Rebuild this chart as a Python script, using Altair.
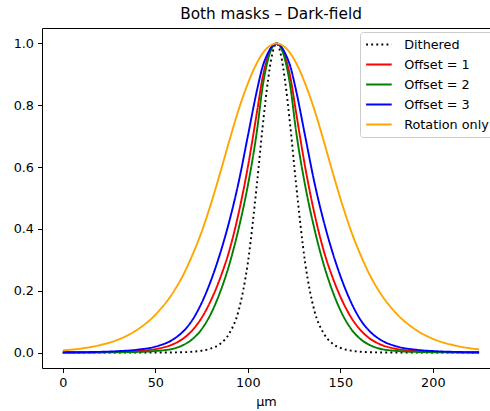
import altair as alt
import pandas as pd

# positions along the profile (µm)
x_um = [0, 10, 20, 30, 40, 50, 60, 65, 70, 75, 80, 85, 90, 95, 100, 105, 108, 111, 113, 115.5,
        118, 120, 123, 126, 131, 136, 141, 146, 151, 156, 161, 166, 171, 181, 191, 201, 211, 225]

dithered = [0, 0, 0, 0, 0, 0, 0.0004, 0.001, 0.0025, 0.006, 0.013, 0.028, 0.062, 0.135, 0.29, 0.55, 0.73, 0.885, 0.96,
            1.0,
            0.96, 0.885, 0.73, 0.55, 0.29, 0.135, 0.062, 0.028, 0.013, 0.006, 0.0025, 0.001, 0.0004, 0, 0, 0, 0, 0]
offset1 = [0.0003, 0.0005, 0.001, 0.002, 0.005, 0.011, 0.028, 0.045, 0.072, 0.112, 0.168, 0.24, 0.33, 0.45, 0.60, 0.78, 0.89, 0.96, 0.99,
           1.0,
           0.99, 0.96, 0.89, 0.78, 0.60, 0.45, 0.33, 0.24, 0.168, 0.112, 0.072, 0.045, 0.028, 0.011, 0.005, 0.002, 0.001, 0.0004]
offset2 = [0.0001, 0.0002, 0.0005, 0.001, 0.002, 0.005, 0.013, 0.024, 0.043, 0.075, 0.125, 0.195, 0.285, 0.40, 0.54, 0.72, 0.86, 0.95, 0.985,
           1.0,
           0.985, 0.95, 0.86, 0.72, 0.54, 0.40, 0.285, 0.195, 0.125, 0.075, 0.043, 0.024, 0.013, 0.005, 0.002, 0.001, 0.0005, 0.0002]
offset3 = [0.0007, 0.0011, 0.0022, 0.0045, 0.009, 0.019, 0.044, 0.068, 0.105, 0.16, 0.232, 0.32, 0.425, 0.55, 0.70, 0.85, 0.925, 0.97, 0.99,
           1.0,
           0.99, 0.97, 0.925, 0.85, 0.70, 0.55, 0.425, 0.32, 0.232, 0.16, 0.105, 0.068, 0.044, 0.019, 0.009, 0.0045, 0.0022, 0.0009]
rotation = [0.007, 0.013, 0.024, 0.042, 0.073, 0.122, 0.198, 0.25, 0.315, 0.39, 0.48, 0.58, 0.685, 0.785, 0.87, 0.938, 0.968, 0.988, 0.996,
            1.0,
            0.996, 0.988, 0.968, 0.938, 0.87, 0.785, 0.685, 0.58, 0.48, 0.39, 0.315, 0.25, 0.198, 0.122, 0.073, 0.042, 0.024, 0.010]

series_names = ["Dithered", "Offset = 1", "Offset = 2", "Offset = 3", "Rotation only"]
series_values = [dithered, offset1, offset2, offset3, rotation]
series_colors = ["#000000", "#ff0000", "#008000", "#0000ff", "#ffa500"]
series_dashes = [[1.9, 3.2], [1, 0], [1, 0], [1, 0], [1, 0]]

x_ticks = [0, 50, 100, 150, 200]
y_ticks = [0.0, 0.2, 0.4, 0.6, 0.8, 1.0]

rows = []
for name, vals in zip(series_names, series_values):
    for xv, yv in zip(x_um, vals):
        rows.append({"x": xv, "y": yv, "series": name})
df = pd.DataFrame(rows)

FONT = "DejaVu Sans"
x_scale = alt.Scale(domain=[-11.25, 230.9], nice=False, zero=False)
y_scale = alt.Scale(domain=[-0.05, 1.05], nice=False, zero=False)
y_axis = alt.Axis(values=y_ticks, format=".1f", title=None, grid=False,
                  tickSize=4.5, labelPadding=4)

lines = alt.Chart(df).mark_line(strokeWidth=1.9, interpolate="monotone", clip=True).encode(
    x=alt.X("x:Q", scale=x_scale,
            axis=alt.Axis(values=x_ticks, title="µm", format="d", grid=False,
                          tickSize=4.5, labelPadding=4, titlePadding=6)),
    y=alt.Y("y:Q", scale=y_scale, axis=y_axis),
    color=alt.Color("series:N", sort=series_names,
                    scale=alt.Scale(domain=series_names, range=series_colors),
                    legend=alt.Legend(title=None)),
    strokeDash=alt.StrokeDash("series:N", sort=series_names,
                              scale=alt.Scale(domain=series_names, range=series_dashes),
                              legend=alt.Legend(title=None)),
)

top_frame = alt.Chart(df).mark_line(opacity=0).encode(
    x=alt.X("x:Q", scale=x_scale,
            axis=alt.Axis(orient="top", labels=False, ticks=False, title=None, grid=False)),
    y=alt.Y("y:Q", scale=y_scale, axis=y_axis),
)

chart = alt.layer(lines, top_frame).resolve_axis(x="independent").properties(
    width=448, height=340,
    autosize=alt.AutoSizeParams(type="none"),
    padding={"left": 42, "top": 28, "right": 0, "bottom": 43},
    title=alt.TitleParams("Both masks – Dark-field", font=FONT, fontSize=15.3,
                          fontWeight="normal", color="black", anchor="middle",
                          offset=6, dx=5),
).configure_view(stroke=None).configure_axis(
    labelFont=FONT, titleFont=FONT, labelFontSize=12.8, titleFontSize=12.8,
    titleFontWeight="normal", labelColor="black", titleColor="black",
    domainColor="black", tickColor="black", domainWidth=1, tickWidth=1,
).configure_legend(
    orient="none", legendX=318, legendY=4,
    symbolType="M-2,0H2", symbolSize=164, symbolStrokeWidth=1.9, symbolOffset=6.4,
    labelFont=FONT, labelFontSize=12.8, labelColor="black", labelOffset=17.8,
    padding=5, rowPadding=5, fillColor="rgba(255,255,255,0.8)",
    strokeColor="#cccccc", cornerRadius=3,
)

chart.save("out.html", embed_options={"renderer": "svg", "actions": False})
